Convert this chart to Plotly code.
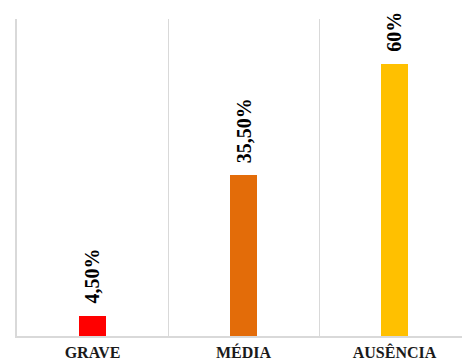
import plotly.graph_objects as go

categories = ["GRAVE", "MÉDIA", "AUSÊNCIA"]
values = [4.5, 35.5, 60]
labels = ["4,50%", "35,50%", "60%"]
colors = ["#FF0000", "#E36C09", "#FFC000"]

fig = go.Figure()
fig.add_trace(go.Bar(
    x=categories, y=values, width=0.175,
    marker=dict(color=colors, line=dict(width=0)),
    hoverinfo="skip",
))

for c, v, t in zip(categories, values, labels):
    fig.add_annotation(
        x=c, y=v, text="<b>%s</b>" % t, textangle=-90,
        showarrow=False, yanchor="bottom", yshift=10,
        font=dict(family="Liberation Serif", size=20, color="#000000"),
    )

fig.update_layout(
    width=462, height=363,
    margin=dict(l=17, r=0, t=19, b=27),
    paper_bgcolor="white", plot_bgcolor="white",
    showlegend=False,
    bargap=0,
)
fig.update_xaxes(
    type="category", range=[-0.5, 2.447], automargin=False,
    tickson="boundaries", ticks="", showgrid=True, gridcolor="#D9D9D9", gridwidth=1,
    showline=True, linecolor="#D9D9D9", linewidth=2,
    tickfont=dict(family="Liberation Serif", size=16, color="#1a1a1a", weight="bold"),
    ticklabelstandoff=1,
)
fig.update_yaxes(
    range=[0, 70], showgrid=False, zeroline=False, showticklabels=False,
    showline=True, linecolor="#D9D9D9", linewidth=2, automargin=False,
)

fig.write_html("out.html")
